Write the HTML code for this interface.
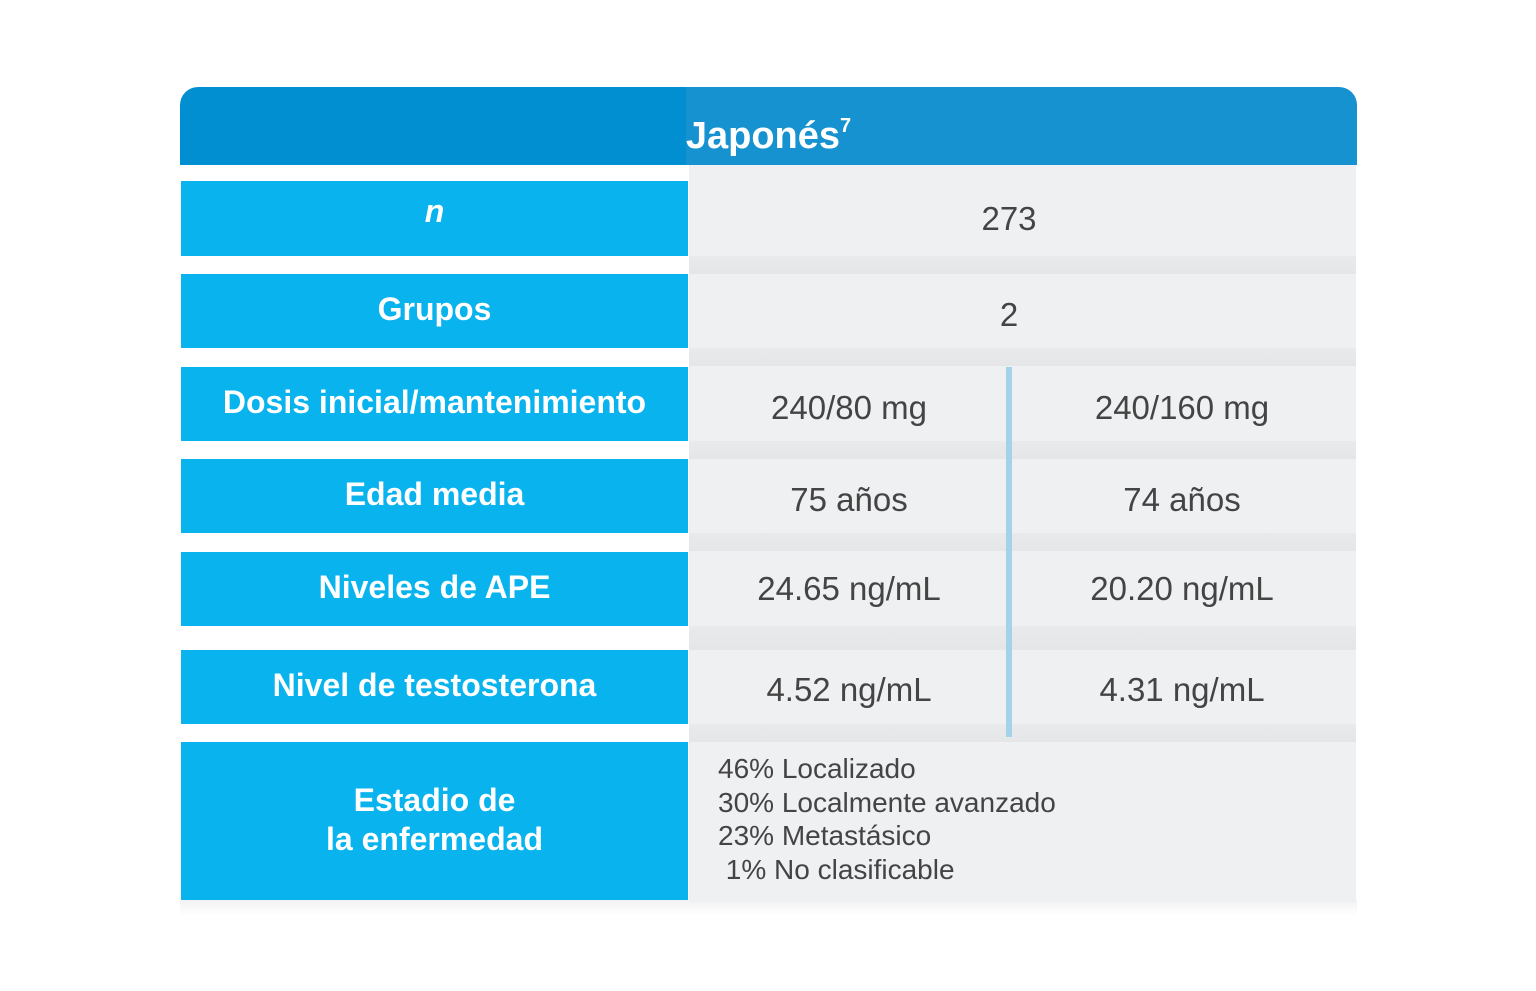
<!DOCTYPE html>
<html><head><meta charset="utf-8"><style>
body{margin:0;width:1536px;height:991px;background:#fff;position:relative;overflow:hidden;font-family:"Liberation Sans",sans-serif}
.abs{position:absolute}
.hdr{left:180px;top:87px;width:1177px;height:78px;border-radius:18px 18px 0 0;background:linear-gradient(90deg,#028fd2 0,#028fd2 43%,#1592cf 43%,#1592cf 100%);color:#fff;font-weight:bold;font-size:38px;text-align:center;line-height:78px}
.hdr sup{font-size:20px;vertical-align:16px}
.right{left:689px;top:165px;width:667px;height:737px;background:#eff0f2}
.band{left:689px;width:667px;background:linear-gradient(#e9eaec,#e5e6e8);height:18px}
.lbl{left:181px;width:507px;background:#08b3ee;color:#fff;font-weight:bold;font-size:32px;text-align:center;display:flex;align-items:center;justify-content:center;line-height:39px}
.val{color:#444;font-size:33px;text-align:center;display:flex;align-items:center;justify-content:center}
.vline{left:1006px;top:367px;width:6px;height:370px;background:#a3d3e9}
.stage{left:718px;top:752px;color:#444;font-size:28px;line-height:33.5px;white-space:pre}
.shadow{left:180px;top:900px;width:1177px;height:16px;background:linear-gradient(#f2f2f2,#fff)}
</style></head><body>
<div class="abs shadow"></div>
<div class="abs hdr">Japonés<sup>7</sup></div>
<div class="abs right"></div>
<div class="abs band" style="top:256px"></div>
<div class="abs band" style="top:348px"></div>
<div class="abs band" style="top:441px"></div>
<div class="abs band" style="top:533px"></div>
<div class="abs band" style="top:626px;height:24px"></div>
<div class="abs band" style="top:724px"></div>
<div class="abs vline"></div>

<div class="abs lbl" style="top:181px;height:75px;font-style:italic"><span style="margin-top:-14px">n</span></div>
<div class="abs val" style="left:689px;width:640px;top:181px;height:75px">273</div>

<div class="abs lbl" style="top:274px;height:74px"><span style="margin-top:-4px">Grupos</span></div>
<div class="abs val" style="left:689px;width:640px;top:274px;height:82px">2</div>

<div class="abs lbl" style="top:367px;height:74px"><span style="margin-top:-4px">Dosis inicial/mantenimiento</span></div>
<div class="abs val" style="left:689px;width:320px;top:367px;height:82px">240/80 mg</div>
<div class="abs val" style="left:1012px;width:340px;top:367px;height:82px">240/160 mg</div>

<div class="abs lbl" style="top:459px;height:74px"><span style="margin-top:-4px">Edad media</span></div>
<div class="abs val" style="left:689px;width:320px;top:459px;height:82px">75 años</div>
<div class="abs val" style="left:1012px;width:340px;top:459px;height:82px">74 años</div>

<div class="abs lbl" style="top:552px;height:74px"><span style="margin-top:-4px">Niveles de APE</span></div>
<div class="abs val" style="left:689px;width:320px;top:552px;height:74px">24.65 ng/mL</div>
<div class="abs val" style="left:1012px;width:340px;top:552px;height:74px">20.20 ng/mL</div>

<div class="abs lbl" style="top:650px;height:74px"><span style="margin-top:-4px">Nivel de testosterona</span></div>
<div class="abs val" style="left:689px;width:320px;top:650px;height:80px">4.52 ng/mL</div>
<div class="abs val" style="left:1012px;width:340px;top:650px;height:80px">4.31 ng/mL</div>

<div class="abs lbl" style="top:742px;height:158px"><span style="margin-top:-2px">Estadio de<br>la enfermedad</span></div>
<div class="abs stage">46% Localizado
30% Localmente avanzado
23% Metastásico
 1% No clasificable</div>
</body></html>
